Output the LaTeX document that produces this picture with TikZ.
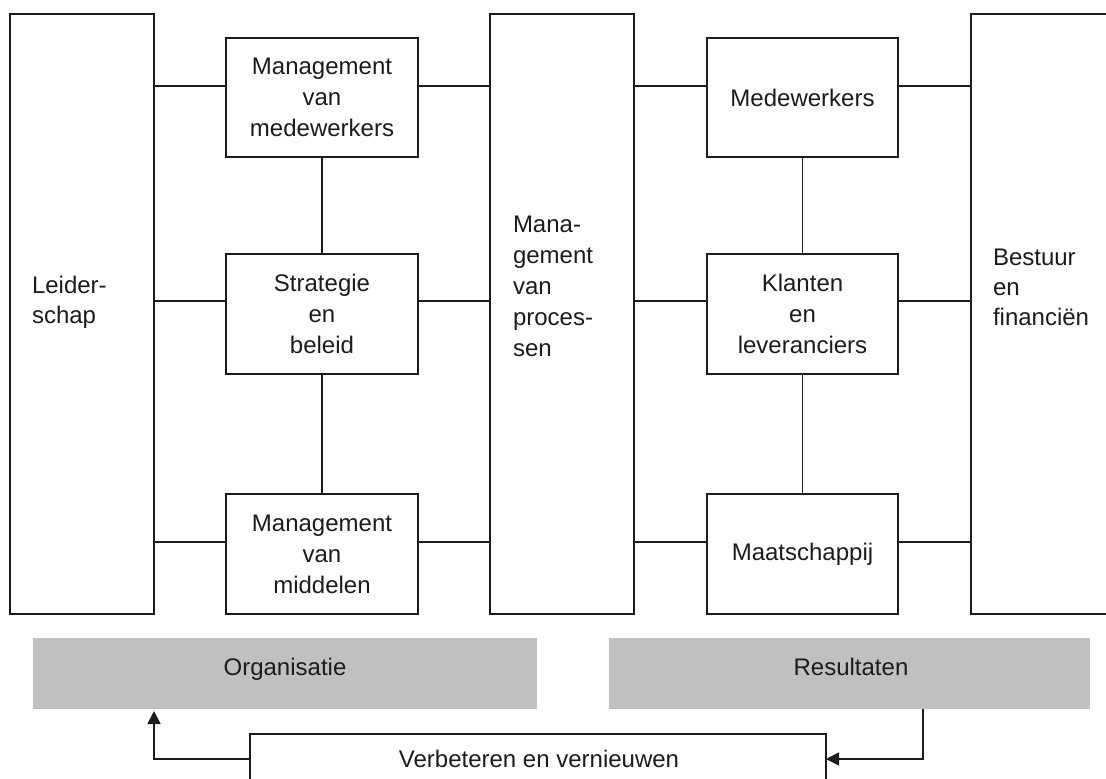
\documentclass[tikz,border=0pt]{standalone}
\usepackage{fontspec}
\setmainfont{Liberation Sans}
\usetikzlibrary{arrows.meta}
\definecolor{barg}{HTML}{C0C0C0}
\definecolor{ink}{HTML}{1C1C1C}
\begin{document}
\begin{tikzpicture}[x=1pt,y=-1pt,
  box/.style={draw=ink, line width=1.8pt, inner sep=0pt, outer sep=0pt, anchor=north west,
    align=center, text=ink, font=\fontsize{24}{31}\selectfont},
  bar/.style={fill=barg, inner sep=0pt, outer sep=0pt, anchor=north west},
  lbl/.style={inner sep=0pt, outer sep=0pt, text=ink, align=left, anchor=west, font=\fontsize{24}{31}\selectfont},
  ctr/.style={inner sep=0pt, outer sep=0pt, text=ink, anchor=base, font=\fontsize{24}{31}\selectfont},
  conn/.style={draw=ink, line width=1.8pt},
  arr/.style={conn, line join=miter, -{Triangle[width=13pt,length=13pt]}}]
\useasboundingbox (0,0) rectangle (1106,779);
\clip (0,0) rectangle (1106,779);
\fill[white] (0,0) rectangle (1106,779);
% tall boxes
\node[box, minimum width=144pt, minimum height=600pt] (L) at (10,14) {};
\node[box, minimum width=144pt, minimum height=600pt] (P) at (490,14) {};
\node[box, minimum width=170pt, minimum height=600pt] (B) at (971,14) {};
% left column
\node[box, minimum width=192pt, minimum height=119pt] (MM) at (226,38) {Management\\van\\medewerkers};
\node[box, minimum width=192pt, minimum height=120pt] (SB) at (226,254) {Strategie\\en\\beleid};
\node[box, minimum width=192pt, minimum height=120pt] (MR) at (226,494) {Management\\van\\middelen};
% right column
\node[box, minimum width=191pt, minimum height=119pt] (ME) at (707,38) {Medewerkers};
\node[box, minimum width=191pt, minimum height=120pt] (KL) at (707,254) {Klanten\\en\\leveranciers};
\node[box, minimum width=191pt, minimum height=120pt] (MA) at (707,494) {Maatschappij};
% texts of tall boxes
\node[lbl, font=\fontsize{24}{30}\selectfont] (Lt) at (32,302) {Leider-\\schap};
\node[lbl] (Pt) at (513,286) {Mana-\\gement\\van\\proces-\\sen};
\node[lbl, font=\fontsize{24}{30}\selectfont] (Bt) at (993,287) {Bestuur\\en\\financiën};
% gray bars
\node[bar, minimum width=504pt, minimum height=71pt] (Org) at (33,638) {};
\node[bar, minimum width=481pt, minimum height=71pt] (Res) at (609,638) {};
\node[ctr] (Ot) at (285,675) {Organisatie};
\node[ctr] (Rt) at (851,675) {Resultaten};
% bottom box
\node[box, minimum width=576pt, minimum height=90pt] (V) at (250,734) {};
\node[ctr] (Vt) at (539,767) {Verbeteren en vernieuwen};
% row heights of the connectors
\coordinate (r1) at (0,86);
\coordinate (r2) at (0,301);
\coordinate (r3) at (0,542);
% horizontal connectors
\draw[conn] (L.east |- r1) -- (MM.west |- r1);
\draw[conn] (MM.east |- r1) -- (P.west |- r1);
\draw[conn] (P.east |- r1) -- (ME.west |- r1);
\draw[conn] (ME.east |- r1) -- (B.west |- r1);
\draw[conn] (L.east |- r2) -- (SB.west |- r2);
\draw[conn] (SB.east |- r2) -- (P.west |- r2);
\draw[conn] (P.east |- r2) -- (KL.west |- r2);
\draw[conn] (KL.east |- r2) -- (B.west |- r2);
\draw[conn] (L.east |- r3) -- (MR.west |- r3);
\draw[conn] (MR.east |- r3) -- (P.west |- r3);
\draw[conn] (P.east |- r3) -- (MA.west |- r3);
\draw[conn] (MA.east |- r3) -- (B.west |- r3);
% vertical connectors
\draw[conn] (MM.south) -- (SB.north);
\draw[conn] (SB.south) -- (MR.north);
\draw[conn] (ME.south) -- (KL.north);
\draw[conn] (KL.south) -- (MA.north);
% feedback arrows
\coordinate (bl) at (154,759);
\coordinate (br) at (923,759);
\draw[arr, shorten >=2pt] (V.west |- bl) -- (bl) -- (bl |- Org.south);
\draw[arr] (br |- Res.south) -- (br) -- (V.east |- br);
\end{tikzpicture}
\end{document}
